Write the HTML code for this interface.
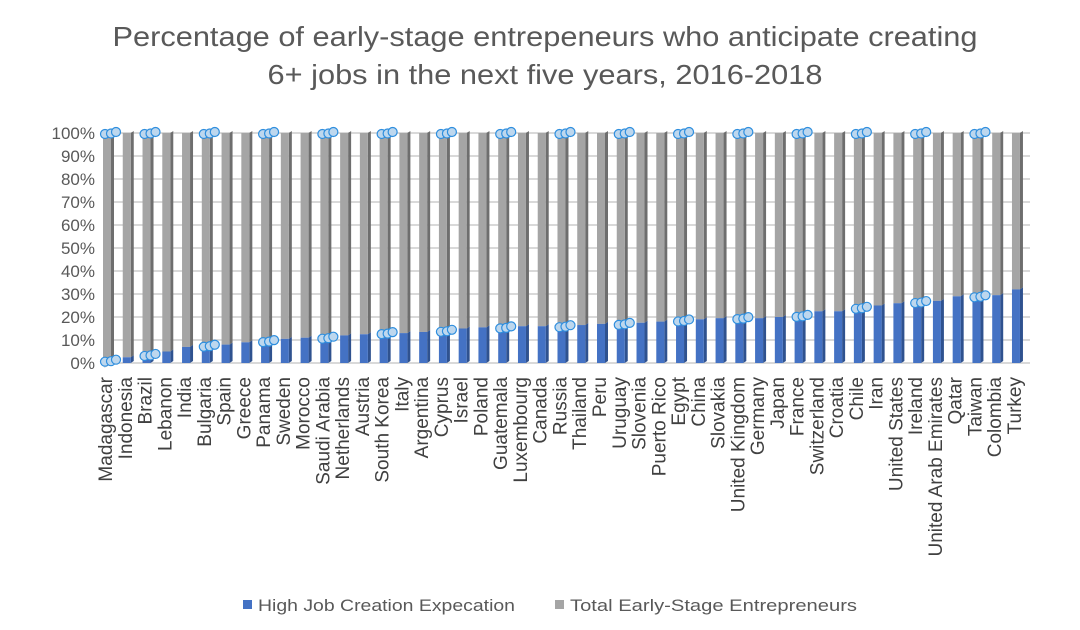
<!DOCTYPE html>
<html><head><meta charset="utf-8"><style>
html,body{margin:0;padding:0;background:#fff}
svg{display:block;font-family:"Liberation Sans",sans-serif}
</style></head><body>
<svg id="s" width="1080" height="630" viewBox="0 0 1080 630">
<text x="545" y="46" text-anchor="middle" font-size="28" fill="#595959" textLength="865" lengthAdjust="spacingAndGlyphs">Percentage of early-stage entrepeneurs who anticipate creating</text>
<text x="545" y="84" text-anchor="middle" font-size="28" fill="#595959" textLength="555" lengthAdjust="spacingAndGlyphs">6+ jobs in the next five years, 2016-2018</text>
<g font-size="17" fill="#595959" text-anchor="end">
<text x="95" y="139">100%</text><text x="95" y="162">90%</text><text x="95" y="185">80%</text><text x="95" y="208">70%</text><text x="95" y="231">60%</text><text x="95" y="254">50%</text><text x="95" y="277">40%</text><text x="95" y="300">30%</text><text x="95" y="323">20%</text><text x="95" y="346">10%</text><text x="95" y="369">0%</text>
</g>
<g id="grid"></g>
<g id="bars"></g>
<g id="labels" font-size="19" fill="#404040" text-anchor="end">
<text>Madagascar</text><text>Indonesia</text><text>Brazil</text><text>Lebanon</text><text>India</text><text>Bulgaria</text><text>Spain</text><text>Greece</text><text>Panama</text><text>Sweden</text><text>Morocco</text><text>Saudi Arabia</text><text>Netherlands</text><text>Austria</text><text>South Korea</text><text>Italy</text><text>Argentina</text><text>Cyprus</text><text>Israel</text><text>Poland</text><text>Guatemala</text><text>Luxembourg</text><text>Canada</text><text>Russia</text><text>Thailand</text><text>Peru</text><text>Uruguay</text><text>Slovenia</text><text>Puerto Rico</text><text>Egypt</text><text>China</text><text>Slovakia</text><text>United Kingdom</text><text>Germany</text><text>Japan</text><text>France</text><text>Switzerland</text><text>Croatia</text><text>Chile</text><text>Iran</text><text>United States</text><text>Ireland</text><text>United Arab Emirates</text><text>Qatar</text><text>Taiwan</text><text>Colombia</text><text>Turkey</text>
</g>
<rect x="243" y="600" width="9" height="9" fill="#4472c4"/>
<text x="258" y="611" font-size="17" fill="#595959" textLength="257" lengthAdjust="spacingAndGlyphs">High Job Creation Expecation</text>
<rect x="555" y="600" width="9" height="9" fill="#a5a5a5"/>
<text x="570" y="611" font-size="17" fill="#595959" textLength="287" lengthAdjust="spacingAndGlyphs">Total Early-Stage Entrepreneurs</text>
</svg>
<script>
var NS="http://www.w3.org/2000/svg";
function el(p,t,a){var e=document.createElementNS(NS,t);for(var k in a)e.setAttribute(k,a[k]);p.appendChild(e);return e;}
var g=document.getElementById('grid'),b=document.getElementById('bars');
for(var i=0;i<=10;i++){var y=363-23*i;el(g,'path',{d:'M104 '+(y+4)+' L112 '+y+' L1030 '+y,stroke:'#d9d9d9','stroke-width':2,fill:'none'});}
var v=[1,2.5,3.5,5,7,7.5,8,9,9.5,10.5,11,11,12,12.5,13,13,13.5,14,15,15.5,15.5,16,16,16,16.5,17,17,17.5,18,18.5,19,19.5,19.5,19.5,20,20.5,22.5,22.5,24,25,26,26.5,27,29,29,29.5,32];
var mk=[0,2,5,8,11,14,17,20,23,26,29,32,35,38,41,44];
var labs=document.getElementById('labels').children;
for(var i=0;i<47;i++){
 var c=108+i*19.76,yb=363-2.3*v[i],x0=c-5;
 el(b,'path',{d:'M'+(x0+8)+' 133 L'+(x0+11)+' 131 L'+(x0+11)+' '+(yb-2)+' L'+(x0+8)+' '+yb+'Z',fill:'#6e6e6e'});
 el(b,'rect',{x:x0,y:133,width:8,height:yb-133,fill:'#a5a5a5'});
 el(b,'path',{d:'M'+(x0+8)+' '+yb+' L'+(x0+11)+' '+(yb-2)+' L'+(x0+11)+' 361 L'+(x0+8)+' 363Z',fill:'#2f528f'});
 el(b,'rect',{x:x0,y:yb,width:8,height:363-yb,fill:'#4472c4'});
 var t=labs[i];t.setAttribute('transform','translate('+(c+4)+',377) rotate(-90)');
}
for(var j=0;j<mk.length;j++){var i=mk[j],c=108+i*19.76,yb=363-2.3*v[i];
 [[133,0],[yb,0]].forEach(function(p){[[-3,1],[3,0.5],[8,-1]].forEach(function(o){
  el(b,'circle',{cx:c+o[0],cy:p[0]+o[1],r:4.5,fill:'#bdd7ee',stroke:'#2e8ede','stroke-width':1.2});});});
}
</script>
</body></html>
